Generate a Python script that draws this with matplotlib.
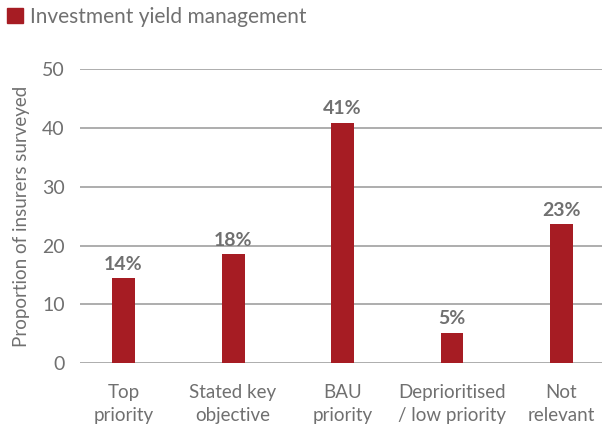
"""Bar chart: investment yield management priority among insurers."""

import matplotlib.pyplot as plt
from matplotlib.patches import Patch

categories = ["Top\npriority", "Stated key\nobjective", "BAU\npriority",
              "Deprioritised\n/ low priority", "Not\nrelevant"]
values = [14.5, 18.6, 40.9, 5.2, 23.7]
labels = ["14%", "18%", "41%", "5%", "23%"]
series_name = "Investment yield management"

RED = "#a61c23"
GREY = "#707070"

plt.rcParams["font.family"] = ["Lato", "DejaVu Sans"]


def plot_chart() -> None:
    fig = plt.figure(figsize=(6.02, 4.32), dpi=100)
    ax = fig.add_axes([0.133, 0.159, 0.867, 0.681])

    x = range(len(values))
    bars = ax.bar(x, values, width=0.21, color=RED, zorder=3)

    for bar, lab in zip(bars, labels):
        ax.text(bar.get_x() + bar.get_width() / 2, bar.get_height() + 0.9, lab,
                ha="center", va="bottom", fontsize=14, fontweight="bold",
                color=GREY)

    ax.set_ylim(0, 50)
    ax.set_xlim(-0.397, 4.37)
    ax.set_yticks(range(0, 51, 10))
    ax.set_xticks(list(x))
    ax.set_xticklabels(categories, fontsize=13.5, color=GREY, linespacing=1.4)
    ax.tick_params(axis="y", labelsize=14, labelcolor=GREY, length=0, pad=11)
    ax.tick_params(axis="x", length=0, pad=15)
    ax.yaxis.grid(True, color="#a0a0a0", linewidth=1.2, zorder=0)
    for side in ax.spines.values():
        side.set_visible(False)

    ax.set_ylabel("Proportion of insurers surveyed", fontsize=13.5,
                  color=GREY, labelpad=9)

    fig.legend(handles=[Patch(color=RED)], labels=[series_name],
               loc="upper left", bbox_to_anchor=(7 / 602, 1 - 7 / 432),
               frameon=False, borderpad=0, borderaxespad=0,
               fontsize=15, labelcolor=GREY, handlelength=0.75,
               handleheight=0.75, handletextpad=0.35)

    fig.savefig("out.png", dpi=100)


def main() -> None:
    plot_chart()


if __name__ == "__main__":
    main()
